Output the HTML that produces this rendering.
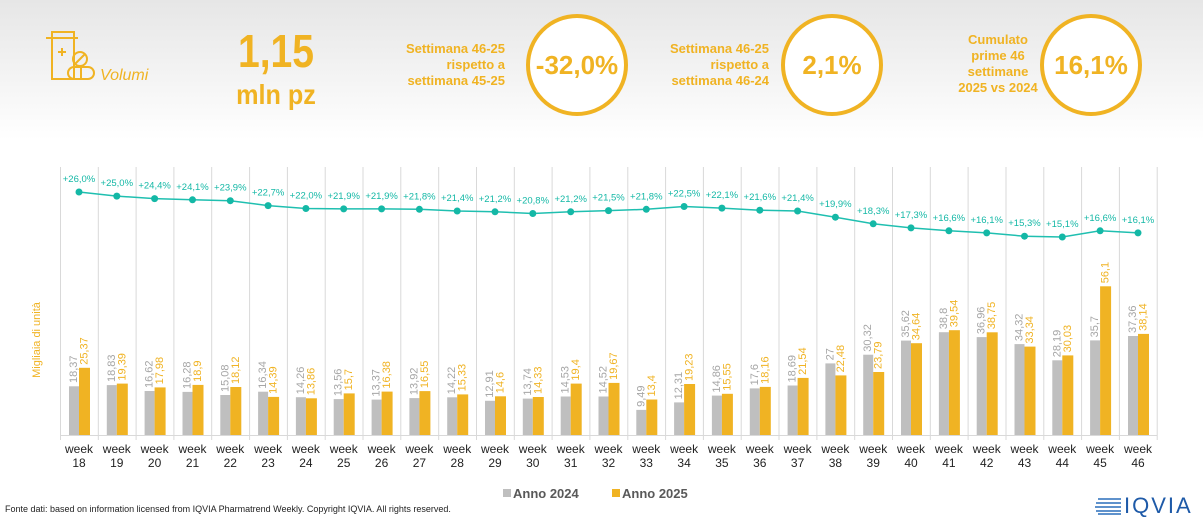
<!DOCTYPE html>
<html><head><meta charset="utf-8"><style>
body{margin:0;width:1203px;height:517px;overflow:hidden;background:#fff;font-family:"Liberation Sans",sans-serif;}
svg{display:block}
</style></head><body>
<svg width="1203" height="517" viewBox="0 0 1203 517" xmlns="http://www.w3.org/2000/svg" font-family="Liberation Sans, sans-serif">
<defs><linearGradient id="bg" x1="0" y1="0" x2="0" y2="1"><stop offset="0" stop-color="#e6e6e6"/><stop offset="1" stop-color="#ffffff"/></linearGradient></defs>
<rect x="0" y="0" width="1203" height="140" fill="url(#bg)"/>
<g fill="none" stroke="#f0b323" stroke-width="2">
<rect x="52" y="32" width="22" height="47"/><line x1="46" y1="38" x2="78" y2="38"/>
<line x1="58" y1="52" x2="66" y2="52"/><line x1="62" y1="48" x2="62" y2="56"/>
<circle cx="80" cy="59" r="7"/><line x1="75" y1="64" x2="85" y2="54"/>
<rect x="68" y="67" width="26" height="12" rx="6"/><line x1="81" y1="67" x2="81" y2="79"/>
</g>
<text x="100" y="80" font-size="16" font-style="italic" fill="#f0b323">Volumi</text>
<text transform="translate(276,67) scale(0.85,1)" font-size="46" font-weight="bold" fill="#f0b323" text-anchor="middle">1,15</text>
<text transform="translate(276,104) scale(0.9,1)" font-size="28" font-weight="bold" fill="#f0b323" text-anchor="middle">mln pz</text>
<g font-size="13" font-weight="bold" fill="#f0b323" text-anchor="end">
<text x="505" y="53">Settimana 46-25</text><text x="505" y="69">rispetto a</text><text x="505" y="85">settimana 45-25</text>
<text x="769" y="53">Settimana 46-25</text><text x="769" y="69">rispetto a</text><text x="769" y="85">settimana 46-24</text>
</g>
<g font-size="13" font-weight="bold" fill="#f0b323" text-anchor="middle">
<text x="998" y="44">Cumulato</text><text x="998" y="60">prime 46</text><text x="998" y="76">settimane</text><text x="998" y="92">2025 vs 2024</text>
</g>
<g fill="#fff" stroke="#f0b323" stroke-width="4">
<circle cx="577" cy="65" r="49"/><circle cx="832" cy="65" r="49"/><circle cx="1091" cy="65" r="49"/>
</g>
<g font-size="26" font-weight="bold" fill="#f0b323" text-anchor="middle">
<text x="577" y="74">-32,0%</text><text x="832" y="74">2,1%</text><text x="1091" y="74">16,1%</text>
</g>
<g stroke="#d9d9d9" stroke-width="1">
<line x1="60.5" y1="167" x2="60.5" y2="440"/><line x1="98.3" y1="167" x2="98.3" y2="440"/><line x1="136.1" y1="167" x2="136.1" y2="440"/><line x1="173.9" y1="167" x2="173.9" y2="440"/><line x1="211.7" y1="167" x2="211.7" y2="440"/><line x1="249.6" y1="167" x2="249.6" y2="440"/><line x1="287.4" y1="167" x2="287.4" y2="440"/><line x1="325.2" y1="167" x2="325.2" y2="440"/><line x1="363" y1="167" x2="363" y2="440"/><line x1="400.8" y1="167" x2="400.8" y2="440"/><line x1="438.7" y1="167" x2="438.7" y2="440"/><line x1="476.5" y1="167" x2="476.5" y2="440"/><line x1="514.3" y1="167" x2="514.3" y2="440"/><line x1="552.1" y1="167" x2="552.1" y2="440"/><line x1="589.9" y1="167" x2="589.9" y2="440"/><line x1="627.8" y1="167" x2="627.8" y2="440"/><line x1="665.6" y1="167" x2="665.6" y2="440"/><line x1="703.4" y1="167" x2="703.4" y2="440"/><line x1="741.2" y1="167" x2="741.2" y2="440"/><line x1="779" y1="167" x2="779" y2="440"/><line x1="816.9" y1="167" x2="816.9" y2="440"/><line x1="854.7" y1="167" x2="854.7" y2="440"/><line x1="892.5" y1="167" x2="892.5" y2="440"/><line x1="930.3" y1="167" x2="930.3" y2="440"/><line x1="968.1" y1="167" x2="968.1" y2="440"/><line x1="1006" y1="167" x2="1006" y2="440"/><line x1="1043.8" y1="167" x2="1043.8" y2="440"/><line x1="1081.6" y1="167" x2="1081.6" y2="440"/><line x1="1119.4" y1="167" x2="1119.4" y2="440"/><line x1="1157.2" y1="167" x2="1157.2" y2="440"/>
<line x1="60" y1="435.5" x2="1157" y2="435.5"/>
</g>
<text transform="translate(40,340) rotate(-90)" font-size="11" fill="#f0b323" text-anchor="middle">Migliaia di unità</text>
<g fill="#bfbfbf">
<rect x="69" y="386.3" width="10" height="48.7"/><rect x="106.8" y="385.1" width="10" height="49.9"/><rect x="144.6" y="391" width="10" height="44"/><rect x="182.5" y="391.9" width="10" height="43.1"/><rect x="220.3" y="395" width="10" height="40"/><rect x="258.1" y="391.7" width="10" height="43.3"/><rect x="295.9" y="397.2" width="10" height="37.8"/><rect x="333.7" y="399.1" width="10" height="35.9"/><rect x="371.6" y="399.6" width="10" height="35.4"/><rect x="409.4" y="398.1" width="10" height="36.9"/><rect x="447.2" y="397.3" width="10" height="37.7"/><rect x="485" y="400.8" width="10" height="34.2"/><rect x="522.8" y="398.6" width="10" height="36.4"/><rect x="560.7" y="396.5" width="10" height="38.5"/><rect x="598.5" y="396.5" width="10" height="38.5"/><rect x="636.3" y="409.9" width="10" height="25.1"/><rect x="674.1" y="402.4" width="10" height="32.6"/><rect x="711.9" y="395.6" width="10" height="39.4"/><rect x="749.8" y="388.4" width="10" height="46.6"/><rect x="787.6" y="385.5" width="10" height="49.5"/><rect x="825.4" y="363.4" width="10" height="71.6"/><rect x="863.2" y="354.7" width="10" height="80.3"/><rect x="901" y="340.6" width="10" height="94.4"/><rect x="938.9" y="332.2" width="10" height="102.8"/><rect x="976.7" y="337.1" width="10" height="97.9"/><rect x="1014.5" y="344.1" width="10" height="90.9"/><rect x="1052.3" y="360.3" width="10" height="74.7"/><rect x="1090.1" y="340.4" width="10" height="94.6"/><rect x="1128" y="336" width="10" height="99"/>
</g>
<g fill="#f0b323">
<rect x="79" y="367.8" width="11" height="67.2"/><rect x="116.8" y="383.6" width="11" height="51.4"/><rect x="154.6" y="387.4" width="11" height="47.6"/><rect x="192.5" y="384.9" width="11" height="50.1"/><rect x="230.3" y="387" width="11" height="48"/><rect x="268.1" y="396.9" width="11" height="38.1"/><rect x="305.9" y="398.3" width="11" height="36.7"/><rect x="343.7" y="393.4" width="11" height="41.6"/><rect x="381.6" y="391.6" width="11" height="43.4"/><rect x="419.4" y="391.1" width="11" height="43.9"/><rect x="457.2" y="394.4" width="11" height="40.6"/><rect x="495" y="396.3" width="11" height="38.7"/><rect x="532.8" y="397" width="11" height="38"/><rect x="570.7" y="383.6" width="11" height="51.4"/><rect x="608.5" y="382.9" width="11" height="52.1"/><rect x="646.3" y="399.5" width="11" height="35.5"/><rect x="684.1" y="384" width="11" height="51"/><rect x="721.9" y="393.8" width="11" height="41.2"/><rect x="759.8" y="386.9" width="11" height="48.1"/><rect x="797.6" y="377.9" width="11" height="57.1"/><rect x="835.4" y="375.4" width="11" height="59.6"/><rect x="873.2" y="372" width="11" height="63"/><rect x="911" y="343.2" width="11" height="91.8"/><rect x="948.9" y="330.2" width="11" height="104.8"/><rect x="986.7" y="332.3" width="11" height="102.7"/><rect x="1024.5" y="346.6" width="11" height="88.4"/><rect x="1062.3" y="355.4" width="11" height="79.6"/><rect x="1100.1" y="286.3" width="11" height="148.7"/><rect x="1138" y="333.9" width="11" height="101.1"/>
</g>
<g font-size="11" fill="#a6a6a6" dominant-baseline="central">
<text transform="translate(74,383) rotate(-90)">18,37</text><text transform="translate(111.8,382) rotate(-90)">18,83</text><text transform="translate(149.6,388) rotate(-90)">16,62</text><text transform="translate(187.5,389) rotate(-90)">16,28</text><text transform="translate(225.3,392) rotate(-90)">15,08</text><text transform="translate(263.1,388.7) rotate(-90)">16,34</text><text transform="translate(300.9,394.2) rotate(-90)">14,26</text><text transform="translate(338.7,396.1) rotate(-90)">13,56</text><text transform="translate(376.6,396.6) rotate(-90)">13,37</text><text transform="translate(414.4,395.1) rotate(-90)">13,92</text><text transform="translate(452.2,394.3) rotate(-90)">14,22</text><text transform="translate(490,397.8) rotate(-90)">12,91</text><text transform="translate(527.8,395.6) rotate(-90)">13,74</text><text transform="translate(565.7,393.5) rotate(-90)">14,53</text><text transform="translate(603.5,393.5) rotate(-90)">14,52</text><text transform="translate(641.3,406.9) rotate(-90)">9,49</text><text transform="translate(679.1,399.4) rotate(-90)">12,31</text><text transform="translate(716.9,392.6) rotate(-90)">14,86</text><text transform="translate(754.8,385.4) rotate(-90)">17,6</text><text transform="translate(792.6,382.5) rotate(-90)">18,69</text><text transform="translate(830.4,360.4) rotate(-90)">27</text><text transform="translate(868.2,351.7) rotate(-90)">30,32</text><text transform="translate(906,337.6) rotate(-90)">35,62</text><text transform="translate(943.9,329.2) rotate(-90)">38,8</text><text transform="translate(981.7,334.1) rotate(-90)">36,96</text><text transform="translate(1019.5,341.1) rotate(-90)">34,32</text><text transform="translate(1057.3,357.3) rotate(-90)">28,19</text><text transform="translate(1095.1,337.4) rotate(-90)">35,7</text><text transform="translate(1133,333) rotate(-90)">37,36</text>
</g>
<g font-size="11" fill="#f0b323" dominant-baseline="central">
<text transform="translate(84.5,364.8) rotate(-90)">25,37</text><text transform="translate(122.3,380.6) rotate(-90)">19,39</text><text transform="translate(160.1,384.4) rotate(-90)">17,98</text><text transform="translate(198,381.9) rotate(-90)">18,9</text><text transform="translate(235.8,384) rotate(-90)">18,12</text><text transform="translate(273.6,393.9) rotate(-90)">14,39</text><text transform="translate(311.4,395.3) rotate(-90)">13,86</text><text transform="translate(349.2,390.4) rotate(-90)">15,7</text><text transform="translate(387.1,388.6) rotate(-90)">16,38</text><text transform="translate(424.9,388.1) rotate(-90)">16,55</text><text transform="translate(462.7,391.4) rotate(-90)">15,33</text><text transform="translate(500.5,393.3) rotate(-90)">14,6</text><text transform="translate(538.3,394) rotate(-90)">14,33</text><text transform="translate(576.2,380.6) rotate(-90)">19,4</text><text transform="translate(614,379.9) rotate(-90)">19,67</text><text transform="translate(651.8,396.5) rotate(-90)">13,4</text><text transform="translate(689.6,381) rotate(-90)">19,23</text><text transform="translate(727.4,390.8) rotate(-90)">15,55</text><text transform="translate(765.3,383.9) rotate(-90)">18,16</text><text transform="translate(803.1,374.9) rotate(-90)">21,54</text><text transform="translate(840.9,372.4) rotate(-90)">22,48</text><text transform="translate(878.7,369) rotate(-90)">23,79</text><text transform="translate(916.5,340.2) rotate(-90)">34,64</text><text transform="translate(954.4,327.2) rotate(-90)">39,54</text><text transform="translate(992.2,329.3) rotate(-90)">38,75</text><text transform="translate(1030,343.6) rotate(-90)">33,34</text><text transform="translate(1067.8,352.4) rotate(-90)">30,03</text><text transform="translate(1105.6,283.3) rotate(-90)">56,1</text><text transform="translate(1143.5,330.9) rotate(-90)">38,14</text>
</g>
<polyline fill="none" stroke="#1fbfb0" stroke-width="1.5" points="79,192 116.8,196.1 154.6,198.6 192.5,199.8 230.3,200.7 268.1,205.6 305.9,208.5 343.7,208.9 381.6,208.9 419.4,209.3 457.2,211 495,211.8 532.8,213.5 570.7,211.8 608.5,210.6 646.3,209.3 684.1,206.5 721.9,208.1 759.8,210.2 797.6,211 835.4,217.2 873.2,223.8 911,227.9 948.9,230.8 986.7,232.9 1024.5,236.2 1062.3,237 1100.1,230.8 1138,232.9"/>
<g fill="#14b8a6">
<circle cx="79" cy="192" r="3.5"/><circle cx="116.8" cy="196.1" r="3.5"/><circle cx="154.6" cy="198.6" r="3.5"/><circle cx="192.5" cy="199.8" r="3.5"/><circle cx="230.3" cy="200.7" r="3.5"/><circle cx="268.1" cy="205.6" r="3.5"/><circle cx="305.9" cy="208.5" r="3.5"/><circle cx="343.7" cy="208.9" r="3.5"/><circle cx="381.6" cy="208.9" r="3.5"/><circle cx="419.4" cy="209.3" r="3.5"/><circle cx="457.2" cy="211" r="3.5"/><circle cx="495" cy="211.8" r="3.5"/><circle cx="532.8" cy="213.5" r="3.5"/><circle cx="570.7" cy="211.8" r="3.5"/><circle cx="608.5" cy="210.6" r="3.5"/><circle cx="646.3" cy="209.3" r="3.5"/><circle cx="684.1" cy="206.5" r="3.5"/><circle cx="721.9" cy="208.1" r="3.5"/><circle cx="759.8" cy="210.2" r="3.5"/><circle cx="797.6" cy="211" r="3.5"/><circle cx="835.4" cy="217.2" r="3.5"/><circle cx="873.2" cy="223.8" r="3.5"/><circle cx="911" cy="227.9" r="3.5"/><circle cx="948.9" cy="230.8" r="3.5"/><circle cx="986.7" cy="232.9" r="3.5"/><circle cx="1024.5" cy="236.2" r="3.5"/><circle cx="1062.3" cy="237" r="3.5"/><circle cx="1100.1" cy="230.8" r="3.5"/><circle cx="1138" cy="232.9" r="3.5"/>
</g>
<g font-size="9.5" fill="#14b8a6" text-anchor="middle">
<text x="79" y="182">+26,0%</text><text x="116.8" y="186">+25,0%</text><text x="154.6" y="188.6">+24,4%</text><text x="192.5" y="189.8">+24,1%</text><text x="230.3" y="190.7">+23,9%</text><text x="268.1" y="195.6">+22,7%</text><text x="305.9" y="198.5">+22,0%</text><text x="343.7" y="198.9">+21,9%</text><text x="381.6" y="198.9">+21,9%</text><text x="419.4" y="199.3">+21,8%</text><text x="457.2" y="201">+21,4%</text><text x="495" y="201.8">+21,2%</text><text x="532.8" y="203.5">+20,8%</text><text x="570.7" y="201.8">+21,2%</text><text x="608.5" y="200.6">+21,5%</text><text x="646.3" y="199.3">+21,8%</text><text x="684.1" y="196.5">+22,5%</text><text x="721.9" y="198.1">+22,1%</text><text x="759.8" y="200.2">+21,6%</text><text x="797.6" y="201">+21,4%</text><text x="835.4" y="207.2">+19,9%</text><text x="873.2" y="213.8">+18,3%</text><text x="911" y="217.9">+17,3%</text><text x="948.9" y="220.8">+16,6%</text><text x="986.7" y="222.9">+16,1%</text><text x="1024.5" y="226.2">+15,3%</text><text x="1062.3" y="227">+15,1%</text><text x="1100.1" y="220.8">+16,6%</text><text x="1138" y="222.9">+16,1%</text>
</g>
<g font-size="12" fill="#222" text-anchor="middle">
<text x="79" y="453">week</text><text x="116.8" y="453">week</text><text x="154.6" y="453">week</text><text x="192.5" y="453">week</text><text x="230.3" y="453">week</text><text x="268.1" y="453">week</text><text x="305.9" y="453">week</text><text x="343.7" y="453">week</text><text x="381.6" y="453">week</text><text x="419.4" y="453">week</text><text x="457.2" y="453">week</text><text x="495" y="453">week</text><text x="532.8" y="453">week</text><text x="570.7" y="453">week</text><text x="608.5" y="453">week</text><text x="646.3" y="453">week</text><text x="684.1" y="453">week</text><text x="721.9" y="453">week</text><text x="759.8" y="453">week</text><text x="797.6" y="453">week</text><text x="835.4" y="453">week</text><text x="873.2" y="453">week</text><text x="911" y="453">week</text><text x="948.9" y="453">week</text><text x="986.7" y="453">week</text><text x="1024.5" y="453">week</text><text x="1062.3" y="453">week</text><text x="1100.1" y="453">week</text><text x="1138" y="453">week</text>
<text x="79" y="467">18</text><text x="116.8" y="467">19</text><text x="154.6" y="467">20</text><text x="192.5" y="467">21</text><text x="230.3" y="467">22</text><text x="268.1" y="467">23</text><text x="305.9" y="467">24</text><text x="343.7" y="467">25</text><text x="381.6" y="467">26</text><text x="419.4" y="467">27</text><text x="457.2" y="467">28</text><text x="495" y="467">29</text><text x="532.8" y="467">30</text><text x="570.7" y="467">31</text><text x="608.5" y="467">32</text><text x="646.3" y="467">33</text><text x="684.1" y="467">34</text><text x="721.9" y="467">35</text><text x="759.8" y="467">36</text><text x="797.6" y="467">37</text><text x="835.4" y="467">38</text><text x="873.2" y="467">39</text><text x="911" y="467">40</text><text x="948.9" y="467">41</text><text x="986.7" y="467">42</text><text x="1024.5" y="467">43</text><text x="1062.3" y="467">44</text><text x="1100.1" y="467">45</text><text x="1138" y="467">46</text>
</g>
<rect x="503" y="489" width="8" height="8" fill="#bfbfbf"/>
<text x="513" y="498" font-size="13" font-weight="bold" fill="#595959">Anno 2024</text>
<rect x="612" y="489" width="8" height="8" fill="#f0b323"/>
<text x="622" y="498" font-size="13" font-weight="bold" fill="#595959">Anno 2025</text>
<text x="5" y="512" font-size="9" fill="#222">Fonte dati: based on information licensed from IQVIA Pharmatrend Weekly. Copyright IQVIA. All rights reserved.</text>
<g stroke="#2a6ebb" stroke-width="1.5">
<line x1="1098" y1="499" x2="1121" y2="499"/><line x1="1096" y1="503" x2="1121" y2="503"/><line x1="1095" y1="507" x2="1121" y2="507"/><line x1="1096" y1="511" x2="1121" y2="511"/><line x1="1098" y1="514" x2="1121" y2="514"/>
</g>
<text x="1124" y="513" font-size="22" fill="#1e5aa8" letter-spacing="2">IQVIA</text>
</svg>
</body></html>
